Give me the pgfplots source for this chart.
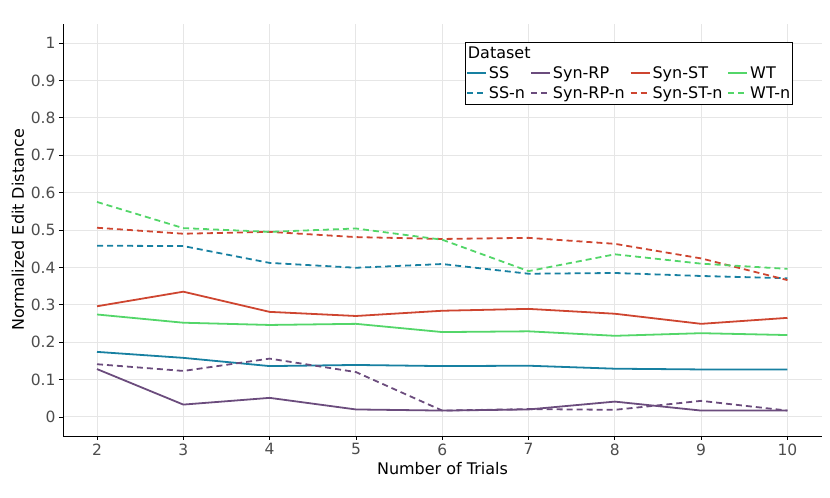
\documentclass[border=0pt]{standalone}
\usepackage{fontspec}
\setmainfont{DejaVu Sans}
\usepackage{pgfplots}
\pgfplotsset{compat=1.18}
\definecolor{ssblue}{RGB}{23,128,161}
\definecolor{rppurple}{RGB}{107,76,125}
\definecolor{stred}{RGB}{206,69,48}
\definecolor{wtgreen}{RGB}{83,214,105}
\definecolor{gridgrey}{RGB}{230,230,230}
\definecolor{ticktext}{RGB}{77,77,77}

\begin{document}
\begin{tikzpicture}
\path[use as bounding box] (-63bp,-62bp) rectangle (767bp,436bp);
\begin{axis}[
    scale only axis,
    width=759bp, height=412bp,
    xmin=1.606, xmax=10.4,
    ymin=-0.051, ymax=1.051,
    xtick={2,3,...,10},
    ytick={0,0.1,...,1.0},
    axis x line*=bottom,
    axis y line*=left,
    axis line style={black, line width=1pt},
    tick align=outside,
    major tick length=4bp,
    tick style={black, line width=0.8pt},
    grid=major,
    grid style={gridgrey, line width=0.9pt},
    /pgf/number format/assume math mode=true,
    ticklabel style={font=\fontsize{15.5bp}{18bp}\selectfont, text=ticktext},
    label style={font=\fontsize{16bp}{19bp}\selectfont},
    xlabel={Number of Trials},
    ylabel={Normalized Edit Distance},
    every axis plot/.append style={line width=1.8pt},
    legend columns=4,
    legend cell align=left,
    legend style={
        at={(0.962,0.956)}, anchor=north east,
        draw=black, line width=0.8pt,
        inner xsep=0.5pt, inner ysep=2.5bp,
        row sep=2.5bp,
        font=\fontsize{16bp}{19bp}\selectfont,
        /tikz/every even column/.append style={column sep=3bp},
    },
    legend image code/.code={\draw[#1] (0bp,0bp) -- (19bp,0bp);},
]
\addlegendimage{empty legend}
\addlegendentry{\makebox[0pt][l]{\hspace*{-21bp}Dataset}}
\addlegendimage{empty legend}
\addlegendentry{}
\addlegendimage{empty legend}
\addlegendentry{}
\addlegendimage{empty legend}
\addlegendentry{}

\addplot[ssblue] coordinates {(2,0.174) (3,0.158) (4,0.136) (5,0.139) (6,0.136) (7,0.137) (8,0.129) (9,0.127) (10,0.127)};
\addlegendentry{SS}
\addplot[rppurple] coordinates {(2,0.128) (3,0.033) (4,0.051) (5,0.020) (6,0.017) (7,0.020) (8,0.041) (9,0.017) (10,0.017)};
\addlegendentry{Syn-RP}
\addplot[stred] coordinates {(2,0.296) (3,0.335) (4,0.281) (5,0.270) (6,0.284) (7,0.289) (8,0.276) (9,0.249) (10,0.265)};
\addlegendentry{Syn-ST}
\addplot[wtgreen] coordinates {(2,0.274) (3,0.252) (4,0.246) (5,0.249) (6,0.227) (7,0.229) (8,0.217) (9,0.224) (10,0.219)};
\addlegendentry{WT}

\addplot[ssblue, dash pattern=on 6bp off 4bp] coordinates {(2,0.458) (3,0.457) (4,0.412) (5,0.399) (6,0.409) (7,0.383) (8,0.385) (9,0.377) (10,0.371)};
\addlegendentry{SS-n}
\addplot[rppurple, dash pattern=on 6bp off 4bp] coordinates {(2,0.141) (3,0.123) (4,0.156) (5,0.120) (6,0.017) (7,0.021) (8,0.019) (9,0.043) (10,0.017)};
\addlegendentry{Syn-RP-n}
\addplot[stred, dash pattern=on 6bp off 4bp] coordinates {(2,0.506) (3,0.490) (4,0.495) (5,0.481) (6,0.476) (7,0.479) (8,0.463) (9,0.424) (10,0.366)};
\addlegendentry{Syn-ST-n}
\addplot[wtgreen, dash pattern=on 6bp off 4bp] coordinates {(2,0.575) (3,0.505) (4,0.495) (5,0.504) (6,0.474) (7,0.390) (8,0.435) (9,0.410) (10,0.396)};
\addlegendentry{WT-n}
\end{axis}
\end{tikzpicture}
\end{document}
